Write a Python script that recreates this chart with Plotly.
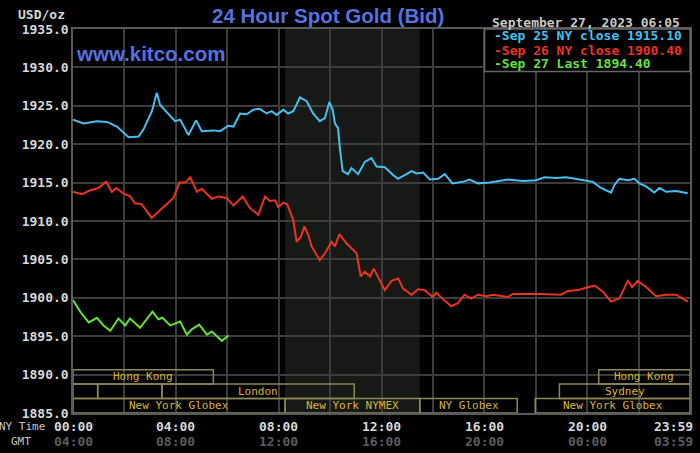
import plotly.graph_objects as go

# ---- data (NY time in hours, price in USD/oz) ----
sep25_hours = [0.00, 0.41, 0.93, 1.32, 1.71, 2.16, 2.55, 2.74, 3.07, 3.26, 3.39, 3.71, 3.97,
               4.17, 4.49, 4.79, 5.01, 5.46, 5.72, 6.04, 6.24, 6.50, 6.76, 7.01, 7.27, 7.53,
               7.73, 7.92, 8.18, 8.37, 8.57, 8.83, 9.09, 9.34, 9.60, 9.80, 9.97, 10.10, 10.19,
               10.31, 10.38, 10.49, 10.70, 10.83, 11.09, 11.35, 11.61, 11.81, 12.13, 12.45,
               12.64, 12.97, 13.17, 13.36, 13.62, 13.88, 14.20, 14.46, 14.76, 15.17, 15.43,
               15.75, 16.21, 16.92, 17.50, 18.02, 18.34, 18.80, 19.18, 19.70, 20.22, 20.54,
               20.93, 21.06, 21.25, 21.58, 21.84, 22.03, 22.29, 22.61, 22.81, 23.07, 23.46, 23.91]
sep25_price = [1923.2, 1922.7, 1923.0, 1922.9, 1922.3, 1920.9, 1921.0, 1921.9, 1924.3, 1926.7,
               1925.1, 1924.0, 1923.0, 1923.2, 1921.2, 1923.1, 1921.7, 1921.8, 1921.7, 1922.4,
               1922.3, 1924.0, 1923.9, 1924.5, 1924.6, 1924.0, 1924.3, 1923.8, 1924.5, 1924.0,
               1924.3, 1926.1, 1925.6, 1924.0, 1923.0, 1923.4, 1925.5, 1924.5, 1922.7, 1922.1,
               1919.5, 1916.5, 1916.1, 1916.9, 1916.1, 1917.7, 1918.2, 1917.1, 1917.0, 1916.0,
               1915.5, 1916.1, 1916.5, 1916.2, 1916.3, 1915.4, 1915.5, 1916.1, 1914.9, 1915.1,
               1915.4, 1914.9, 1915.0, 1915.4, 1915.2, 1915.3, 1915.7, 1915.6, 1915.7, 1915.4,
               1915.1, 1914.3, 1913.7, 1914.7, 1915.5, 1915.3, 1915.5, 1914.9, 1914.5, 1913.7,
               1914.3, 1913.8, 1913.9, 1913.6]

sep26_hours = [0.00, 0.35, 0.67, 0.99, 1.29, 1.51, 1.68, 1.96, 2.22, 2.41, 2.67, 3.06, 3.32,
               3.65, 3.91, 4.14, 4.36, 4.56, 4.82, 5.01, 5.40, 5.65, 5.98, 6.24, 6.60, 6.88,
               7.21, 7.47, 7.66, 7.86, 7.98, 8.18, 8.33, 8.57, 8.70, 8.86, 9.00, 9.15, 9.28,
               9.60, 9.80, 10.06, 10.19, 10.36, 10.64, 11.03, 11.19, 11.35, 11.55, 11.70, 12.13,
               12.39, 12.65, 12.84, 13.17, 13.42, 13.68, 14.00, 14.13, 14.46, 14.72, 14.97,
               15.23, 15.49, 15.75, 16.08, 16.34, 16.92, 17.11, 18.15, 18.67, 18.99, 19.25,
               19.64, 19.96, 20.29, 20.61, 20.93, 21.25, 21.58, 21.75, 21.96, 22.29, 22.68,
               23.07, 23.46, 23.91]
sep26_price = [1913.8, 1913.5, 1914.0, 1914.3, 1915.1, 1913.8, 1914.3, 1913.6, 1913.2, 1912.3,
               1912.2, 1910.4, 1911.2, 1912.2, 1913.0, 1915.0, 1915.0, 1915.7, 1913.8, 1914.2,
               1912.9, 1913.2, 1913.0, 1912.0, 1913.2, 1911.7, 1910.8, 1913.2, 1912.6, 1912.7,
               1911.8, 1912.4, 1912.2, 1910.1, 1907.3, 1907.9, 1909.3, 1908.2, 1906.7, 1904.9,
               1905.8, 1907.3, 1906.7, 1908.3, 1907.1, 1905.8, 1902.8, 1903.4, 1902.8, 1903.8,
               1901.0, 1902.2, 1902.5, 1901.2, 1900.4, 1901.1, 1901.0, 1900.1, 1900.7, 1899.6,
               1898.9, 1899.3, 1900.4, 1899.9, 1900.4, 1900.2, 1900.4, 1900.1, 1900.5, 1900.5,
               1900.4, 1900.4, 1900.9, 1901.0, 1901.3, 1901.6, 1900.8, 1899.5, 1899.9, 1902.2,
               1901.4, 1902.2, 1901.4, 1900.2, 1900.4, 1900.4, 1899.5]

sep27_hours = [0.00, 0.28, 0.61, 0.93, 1.19, 1.45, 1.77, 2.03, 2.22, 2.61, 3.09, 3.32, 3.48,
               3.78, 4.17, 4.43, 4.62, 4.91, 5.21, 5.40, 5.79, 6.05]
sep27_price = [1899.7, 1898.2, 1896.8, 1897.4, 1896.4, 1895.7, 1897.3, 1896.4, 1897.3, 1896.1,
               1898.2, 1897.2, 1897.4, 1896.4, 1896.9, 1895.2, 1895.9, 1896.5, 1895.2, 1895.6,
               1894.4, 1895.1]

legend_text = ["-Sep 25 NY close 1915.10", "-Sep 26 NY close 1900.40", "-Sep 27 Last 1894.40"]
line_colors = ["#45c0f0", "#eb3320", "#66e03a"]

# market sessions: name, start hour, end hour, row (0 = bottom)
sessions = [
    ("New York Globex", 0.00, 8.25, 0),
    ("New York NYMEX", 8.25, 13.49, 0),
    ("NY Globex", 13.49, 17.28, 0),
    ("New York Globex", 17.98, 24.0, 0),
    ("", 0.00, 0.96, 1),
    ("", 0.96, 3.46, 1),
    ("London", 3.46, 10.94, 1),
    ("Sydney", 18.92, 24.0, 1),
    ("Hong Kong", 0.00, 5.46, 2),
    ("Hong Kong", 20.45, 24.0, 2),
]
nymex_open, nymex_close = 8.25, 13.49

tick_hours = [0, 4, 8, 12, 16, 20, 24]
ny_labels = ["00:00", "04:00", "08:00", "12:00", "16:00", "20:00", "23:59"]
gmt_labels = ["04:00", "08:00", "12:00", "16:00", "20:00", "00:00", "03:59"]

mono = "DejaVu Sans Mono"
y_min, y_max = 1885, 1935
row_h = 1.88

fig = go.Figure()
for hrs, px, col in zip([sep25_hours, sep26_hours, sep27_hours],
                        [sep25_price, sep26_price, sep27_price], line_colors):
    fig.add_trace(go.Scatter(x=hrs, y=px, mode="lines",
                             line=dict(color=col, width=2), hoverinfo="skip"))

# NYMEX floor shading
fig.add_shape(type="rect", xref="x", yref="y", x0=nymex_open, x1=nymex_close,
              y0=y_min, y1=y_max, fillcolor="#171917", line_width=0, layer="below")

# session boxes
for name, s, e, row in sessions:
    y0 = y_min + row * row_h
    fig.add_shape(type="rect", xref="x", yref="y", x0=s, x1=e, y0=y0, y1=y0 + row_h,
                  line=dict(color="#8c8759", width=1.5), fillcolor="rgba(0,0,0,0)")
    if name:
        fig.add_annotation(x=(s + e) / 2, y=y0 + row_h / 2, xref="x", yref="y", text=name,
                           showarrow=False, font=dict(family=mono, size=11, color="#d9b53c"))

# x tick labels (NY time + GMT)
for i, (h, ny, gmt) in enumerate(zip(tick_hours, ny_labels, gmt_labels)):
    last = i == len(tick_hours) - 1
    for txt, yy, col in [(ny, -0.036, "#d8d8d8"), (gmt, -0.075, "#5c5c5c")]:
        fig.add_annotation(x=h, y=yy, xref="x", yref="paper", text="<b>" + txt + "</b>",
                           showarrow=False, xanchor="right" if last else "center",
                           xshift=5 if last else 0, yanchor="middle",
                           font=dict(family=mono, size=13, color=col))
fig.add_annotation(x=-0.082, y=-0.036, xref="paper", yref="paper", text="NY Time",
                   showarrow=False, xanchor="center", yanchor="middle",
                   font=dict(family=mono, size=11, color="#c8c8c8"))
fig.add_annotation(x=-0.085, y=-0.075, xref="paper", yref="paper", text="GMT",
                   showarrow=False, xanchor="center", yanchor="middle",
                   font=dict(family=mono, size=11, color="#c8c8c8"))

# header texts
fig.add_annotation(x=-0.01, y=1.039, xref="paper", yref="paper", text="<b>USD/oz</b>",
                   showarrow=False, xanchor="right", yanchor="middle",
                   font=dict(family=mono, size=13, color="#d8d8d8"))
fig.add_annotation(x=0.222, y=1.036, xref="paper", yref="paper",
                   text="<b>24 Hour Spot Gold (Bid)</b>", showarrow=False, xanchor="left",
                   yanchor="middle", font=dict(family="Liberation Sans", size=20.5, color="#5572e2"))
fig.add_annotation(x=0.002, y=0.9375, xref="paper", yref="paper", text="<b>www.kitco.com</b>",
                   showarrow=False, xanchor="left", yanchor="middle",
                   font=dict(family="Liberation Sans", size=20.5, color="#5572e2"))
fig.add_annotation(x=0.676, y=1.018, xref="paper", yref="paper",
                   text="<b>September 27, 2023 06:05</b>", showarrow=False, xanchor="left",
                   yanchor="middle", font=dict(family=mono, size=13, color="#c8c8c8"))

# legend box
fig.add_shape(type="rect", xref="paper", yref="paper", x0=0.667, x1=1.0, y0=0.889, y1=1.0,
              fillcolor="#000000", line=dict(color="#666666", width=1.5), layer="above")
for txt, col, yy in zip(legend_text, line_colors, [0.982, 0.945, 0.909]):
    fig.add_annotation(x=0.679, y=yy, xref="paper", yref="paper", text="<b>" + txt + "</b>",
                       showarrow=False, xanchor="left", yanchor="middle",
                       font=dict(family=mono, size=13, color=col))

fig.update_layout(
    width=700, height=453,
    margin=dict(l=73, r=10, t=29, b=40, autoexpand=False),
    paper_bgcolor="#000000", plot_bgcolor="#000000",
    showlegend=False,
    xaxis=dict(range=[0, 24], tickvals=list(range(0, 24, 2)), showticklabels=False,
               showgrid=True, gridcolor="#3c3c3c", gridwidth=1.5, zeroline=False,
               showline=True, linecolor="#5a5a5a", linewidth=1.5, mirror=True),
    yaxis=dict(range=[y_min, y_max], dtick=5, tick0=y_min, tickformat=".1f",
               tickfont=dict(family=mono, size=13, color="#d8d8d8", weight="bold"),
               showgrid=True, gridcolor="#3c3c3c", gridwidth=1.5, zeroline=False,
               showline=True, linecolor="#5a5a5a", linewidth=1.5, mirror=True),
)

# page body has a default margin, drop it so the chart fills the window
fig.write_html("out.html", config={"displayModeBar": False},
               post_script="document.body.style.margin='0px';")
